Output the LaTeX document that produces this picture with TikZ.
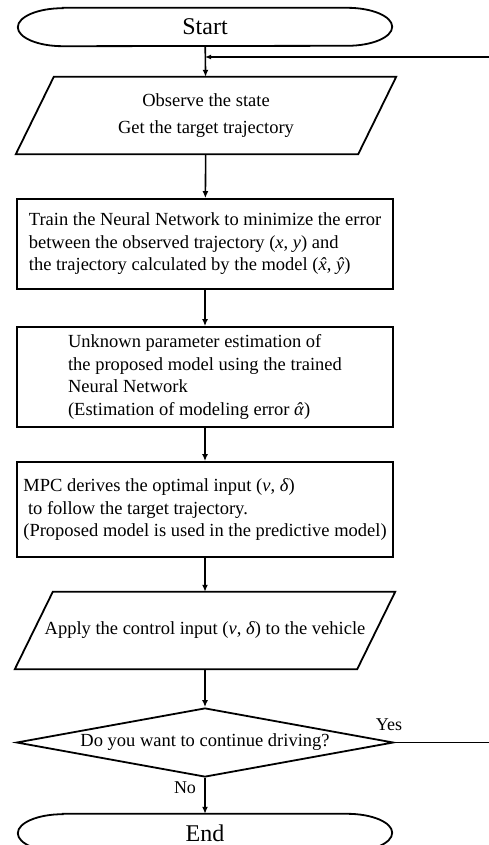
\documentclass[tikz,border=0pt]{standalone}
\usepackage{fontspec}
\setmainfont{Liberation Serif}
\usepackage{tikz}
\usetikzlibrary{arrows.meta}
\usetikzlibrary{shapes.geometric}
\usetikzlibrary{positioning}
\newcommand{\mvar}[1]{\textit{#1}}
\newcommand{\hatvar}[1]{\textit{\accent"02C6 #1}}
\tikzset{
    outline/.style={draw=black, line width=1.8pt},
    terminal/.style={minimum width=374pt, minimum height=38pt, inner sep=0pt,
        font=\fontsize{24}{28}\selectfont},
    iobox/.style={minimum width=342pt, minimum height=77pt, inner sep=0pt,
        align=center, font=\fontsize{18.5}{22.5}\selectfont},
    process/.style={outline, rectangle, minimum width=376pt, inner sep=0pt,
        align=left, font=\fontsize{18.5}{22.5}\selectfont},
    decision/.style={outline, diamond, aspect=5.46, minimum width=377pt,
        minimum height=69pt, inner sep=0pt, font=\fontsize{18.5}{22.5}\selectfont},
    flow/.style={draw=black, line width=1.6pt, -{Latex[length=7pt,width=6pt]}},
    branch/.style={inner sep=0pt, font=\fontsize{18}{22}\selectfont},
}

\begin{document}
\begin{tikzpicture}[x=1pt, y=-1pt]
	\useasboundingbox (0,0) rectangle (489,845);
	\node[terminal] (start) at (205,27) {Start};
	\node[iobox] (observe) at (206,115.5) {Observe the state\\[5pt]Get the target trajectory};
	\node[process, minimum height=90pt] (train) at (205,244) {Train the Neural Network to minimize the error\\
		between the observed trajectory (\mvar{x}, \mvar{y}) and\\
		the trajectory calculated by the model (\hatvar{x}, \hatvar{y})};
	\node[process, minimum height=100pt] (estimate) at (205,377) {Unknown parameter estimation of\\
		the proposed model using the trained\\
		Neural Network\\
		(Estimation of modeling error \hatvar{α})};
	\node[process, minimum height=95pt] (mpc) at (205,509.5) {MPC derives the optimal input (\mvar{v}, \mvar{δ})\\
		\ to follow the target trajectory.\\
		(Proposed model is used in the predictive model)};
	\node[iobox] (apply) at (205,630.5) {Apply the control input (\mvar{v}, \mvar{δ}) to the vehicle};
	\node[decision] (ask) at (205,742.5) {Do you want to continue driving?};
	\node[terminal] (stop) at (205,833) {End};
	\node[branch] (yes) at (389,725) {Yes};
	\node[branch] (no) at (185,788) {No};
	\coordinate (merge) at (205,57);
	\coordinate (loop) at (494,742.5);
%
	\foreach \t in {start,stop}
		\draw[outline] ([xshift=45pt]\t.north west) -- ([xshift=-45pt]\t.north east)
			arc[start angle=90, end angle=-90, x radius=45pt, y radius=19pt]
			-- ([xshift=45pt]\t.south west)
			arc[start angle=270, end angle=90, x radius=45pt, y radius=19pt] -- cycle;
	\foreach \p in {observe,apply}
		\draw[outline] ([xshift=19pt]\p.north west) -- ([xshift=19pt]\p.north east)
			-- ([xshift=-19pt]\p.south east) -- ([xshift=-19pt]\p.south west) -- cycle;
%
	\draw[flow] (start) -- (observe);
	\draw[flow] (observe) -- (train);
	\draw[flow] (train) -- (estimate);
	\draw[flow] (estimate) -- (mpc);
	\draw[flow] (mpc) -- (apply);
	\draw[flow] (apply) -- (ask);
	\draw[flow] (ask) -- (stop);
	\draw[flow, -{Latex[length=6pt,width=5pt]}] (ask.east) -- (loop) |- (merge);
\end{tikzpicture}
\end{document}
